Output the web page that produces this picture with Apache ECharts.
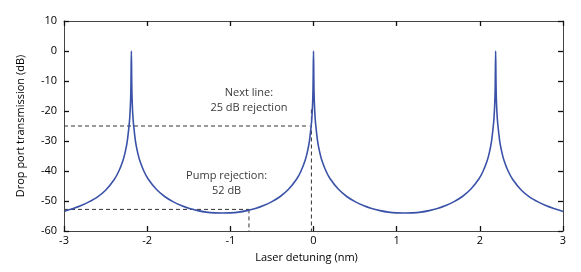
<!DOCTYPE html>
<html>
<head>
<meta charset="utf-8">
<script src="https://cdn.jsdelivr.net/npm/echarts@6/dist/echarts.min.js"></script>
<style>
html,body{margin:0;padding:0;background:#fff;}
#chart{width:581px;height:272px;}
</style>
</head>
<body>
<div id="chart"></div>
<script>
// Laser detuning (nm) sample positions
const detuning = [
  -3.0, -2.9, -2.8, -2.7, -2.6, -2.5, -2.4, -2.34, -2.29, -2.265, -2.24, -2.22, -2.21, -2.2, -2.195,
  -2.19,
  -2.185, -2.18, -2.17, -2.16, -2.14, -2.115, -2.09, -2.04, -1.99, -1.89, -1.79, -1.69, -1.59, -1.49, -1.39, -1.29, -1.19,
  -1.095,
  -1.0, -0.9, -0.8, -0.7, -0.6, -0.5, -0.4, -0.3, -0.2, -0.15, -0.1, -0.075, -0.05, -0.03, -0.02, -0.01, -0.005,
  0,
  0.005, 0.01, 0.02, 0.03, 0.05, 0.075, 0.1, 0.15, 0.2, 0.3, 0.4, 0.5, 0.6, 0.7, 0.8, 0.9, 1.0,
  1.095,
  1.19, 1.29, 1.39, 1.49, 1.59, 1.69, 1.79, 1.89, 1.99, 2.04, 2.09, 2.115, 2.14, 2.16, 2.17, 2.18, 2.185,
  2.19,
  2.195, 2.2, 2.21, 2.22, 2.24, 2.265, 2.29, 2.34, 2.4, 2.5, 2.6, 2.7, 2.8, 2.9, 3.0
];
// Drop port transmission (dB)
const transmission = [
  -53.5, -52.6, -51.6, -50.3, -48.7, -46.4, -43.0, -40.0, -36.4, -33.8, -30.2, -25.5, -22.5, -17.0, -11.3,
  0,
  -11.3, -17.0, -22.5, -25.5, -30.2, -33.8, -36.4, -40.0, -42.6, -46.1, -48.5, -50.2, -51.5, -52.5, -53.2, -53.7, -53.95,
  -54.0,
  -53.95, -53.7, -53.2, -52.5, -51.5, -50.2, -48.5, -46.1, -42.6, -40.0, -36.4, -33.8, -30.2, -25.5, -22.5, -17.0, -11.3,
  0,
  -11.3, -17.0, -22.5, -25.5, -30.2, -33.8, -36.4, -40.0, -42.6, -46.1, -48.5, -50.2, -51.5, -52.5, -53.2, -53.7, -53.95,
  -54.0,
  -53.95, -53.7, -53.2, -52.5, -51.5, -50.2, -48.5, -46.1, -42.6, -40.0, -36.4, -33.8, -30.2, -25.5, -22.5, -17.0, -11.3,
  0,
  -11.3, -17.0, -22.5, -25.5, -30.2, -33.8, -36.4, -40.0, -43.0, -46.4, -48.7, -50.3, -51.6, -52.6, -53.5
];
// Guide lines
const nextLineHX = [-3, -0.05];
const nextLineHY = [-25, -25];
const nextLineVX = [-0.025, -0.025];
const nextLineVY = [-19.5, -60];
const pumpHX = [-3, -0.776];
const pumpHY = [-52.8, -52.8];
const pumpVX = [-0.776, -0.776];
const pumpVY = [-52.8, -60];
// Annotations
const noteText = ['Next line:\n25 dB rejection', 'Pump rejection:\n52 dB'];
const noteX = [-0.776, -1.045];
const noteY = [-16.5, -44.0];

const xTicks = [-3, 3, 1];
const yTicks = [-60, 10, 10];

const FONT = 'Open Sans';
const TXT = '#000';
const zip = (a, b) => a.map((v, i) => [v, b[i]]);
const dashed = (xs, ys) => ({
  type: 'line', data: zip(xs, ys), symbol: 'none', silent: true,
  lineStyle: { color: '#333', width: 1, type: [4, 3] }, z: 1
});
const ax = (o) => Object.assign({
  type: 'value',
  axisLine: { show: true, onZero: false, lineStyle: { color: '#444', width: 1 } },
  axisTick: { show: true, inside: true, length: 5, lineStyle: { color: '#111', width: 1.3 } },
  splitLine: { show: false },
  z: 10
}, o);

const chart = echarts.init(document.getElementById('chart'));
chart.setOption({
  animation: false,
  grid: { left: 64, right: 18, top: 21, bottom: 41 },
  xAxis: [
    ax({
      min: xTicks[0], max: xTicks[1], interval: xTicks[2], position: 'bottom',
      name: 'Laser detuning (nm)', nameLocation: 'middle', nameGap: 21,
      nameTextStyle: { fontFamily: FONT, fontSize: 11, color: TXT, padding: [0, 14, 0, 0] },
      axisLabel: { fontFamily: FONT, fontSize: 11, color: TXT, margin: 4 }
    }),
    ax({ min: xTicks[0], max: xTicks[1], interval: xTicks[2], position: 'top', axisLabel: { show: false } })
  ],
  yAxis: [
    ax({
      min: yTicks[0], max: yTicks[1], interval: yTicks[2], position: 'left',
      name: 'Drop port transmission (dB)', nameLocation: 'middle', nameGap: 38, nameRotate: 90,
      nameTextStyle: { fontFamily: FONT, fontSize: 11, color: TXT },
      axisLabel: { fontFamily: FONT, fontSize: 11, color: TXT, margin: 7 }
    }),
    ax({ min: yTicks[0], max: yTicks[1], interval: yTicks[2], position: 'right', axisLabel: { show: false } })
  ],
  series: [
    dashed(nextLineHX, nextLineHY),
    dashed(nextLineVX, nextLineVY),
    dashed(pumpHX, pumpHY),
    dashed(pumpVX, pumpVY),
    {
      type: 'line', data: zip(detuning, transmission), symbol: 'none', silent: true,
      smooth: 0.3,
      lineStyle: { color: '#3a52a8', width: 1.6 }, z: 3
    },
    {
      type: 'scatter', symbolSize: 0, silent: true, z: 4,
      data: noteX.map((x, i) => ({ value: [x, noteY[i]], label: { formatter: noteText[i] } })),
      label: {
        show: true, position: 'inside', align: 'center', verticalAlign: 'middle',
        fontFamily: FONT, fontSize: 11, color: TXT, lineHeight: 15
      }
    }
  ]
});
</script>
</body>
</html>
